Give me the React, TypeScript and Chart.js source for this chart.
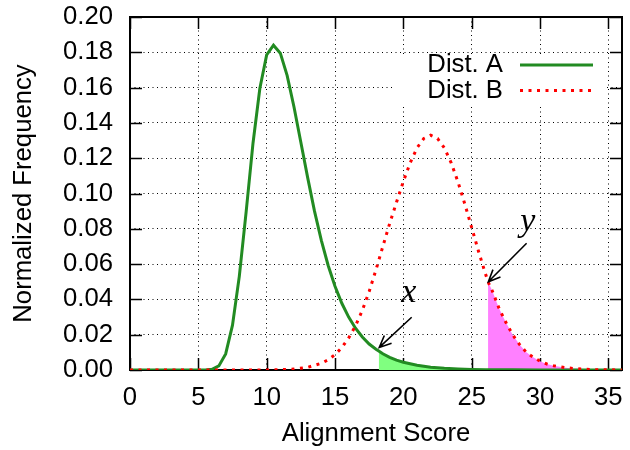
import React, { useEffect, useRef } from 'react';
import { Chart, registerables } from 'chart.js';

Chart.register(...registerables);

// ---- Data ----
const xA = [0, 1, 2, 3, 4, 5, 5.5, 6, 6.5, 7, 7.5, 8, 8.5, 9, 9.5, 10, 10.5, 11, 11.5, 12, 12.5, 13, 13.5, 14, 14.5, 15, 15.5, 16, 16.5, 17, 17.5, 18, 18.2, 18.5, 19, 19.5, 20, 21, 22, 23, 24, 25, 26, 27, 28, 30, 32, 34, 36];
const yA = [0, 0, 0, 0, 0, 0, 0.00003, 0.0004, 0.0023, 0.0091, 0.0254, 0.0532, 0.0897, 0.1285, 0.1595, 0.1785, 0.1840, 0.1795, 0.1668, 0.1490, 0.1290, 0.1090, 0.0900, 0.0735, 0.0592, 0.0474, 0.0378, 0.0300, 0.0237, 0.0187, 0.0147, 0.0118, 0.0108, 0.0092, 0.0072, 0.0056, 0.0044, 0.0027, 0.0016, 0.0010, 0.0006, 0.00035, 0.0002, 0.00013, 0.00008, 0.00003, 0.00001, 0, 0];

const xB = [0, 5, 8, 10, 11, 12, 13, 14, 14.5, 15, 15.5, 16, 16.5, 17, 17.5, 18, 18.5, 19, 19.5, 20, 20.5, 21, 21.5, 22, 22.5, 23, 23.5, 24, 24.5, 25, 25.5, 26, 26.2, 26.5, 27, 27.5, 28, 28.5, 29, 29.5, 30, 30.5, 31, 32, 33, 34, 35, 36];
const yB = [0, 0, 0.00001, 0.00005, 0.00016, 0.0005, 0.0015, 0.0038, 0.0058, 0.0087, 0.0127, 0.0182, 0.0250, 0.0338, 0.0445, 0.0568, 0.0700, 0.0830, 0.0950, 0.1068, 0.1174, 0.1258, 0.1312, 0.1330, 0.1312, 0.1258, 0.1174, 0.1065, 0.0940, 0.0807, 0.0673, 0.0547, 0.0500, 0.0450, 0.0350, 0.0270, 0.0200, 0.0145, 0.0100, 0.0072, 0.0050, 0.0034, 0.0024, 0.0012, 0.0005, 0.0002, 0.0001, 0];

const xCutA = 18.2;
const xCutB = 26.2;

const seriesNames = ['Dist. A', 'Dist. B'];
const xTitle = 'Alignment Score';
const yTitle = 'Normalized Frequency';

// annotation letters and arrows, in data units
const noteLabels = ['x', 'y'];
const noteTextX = [20.4, 29.1];
const noteTextY = [0.0385, 0.0788];
const arrowFromX = [20.61, 29.02];
const arrowFromY = [0.0299, 0.0718];
const arrowToX = [18.24, 26.22];
const arrowToY = [0.0128, 0.0500];

// ---- Styles ----
const FAMILY = '"Liberation Sans", Arial, Helvetica, sans-serif';
const FONT_SIZE = 25.7;
const GREEN = '#228B22';
const RED = '#ff0000';
const GREEN_FILL = '#80ff80';
const MAGENTA_FILL = '#ff80ff';
const DOT_DASH = [3, 5.5];

const framePlugin = {
  id: 'frameAndKey',
  beforeDatasetsDraw(chart: any) {
    const { ctx, chartArea: a, scales } = chart;
    ctx.save();
    // opaque key box
    ctx.fillStyle = '#ffffff';
    ctx.fillRect(a.right - 229, a.top + 37, 214, 53);
    // key entries
    ctx.font = `${FONT_SIZE}px ${FAMILY}`;
    ctx.fillStyle = '#000';
    ctx.textAlign = 'right';
    ctx.textBaseline = 'middle';
    const rows = [a.top + 48, a.top + 73.5];
    ctx.fillText(seriesNames[0], a.right - 119, rows[0]);
    ctx.fillText(seriesNames[1], a.right - 119, rows[1]);
    ctx.lineCap = 'butt';
    ctx.strokeStyle = GREEN;
    ctx.lineWidth = 3;
    ctx.beginPath();
    ctx.moveTo(a.right - 102, rows[0]);
    ctx.lineTo(a.right - 29, rows[0]);
    ctx.stroke();
    ctx.strokeStyle = RED;
    ctx.setLineDash(DOT_DASH);
    ctx.beginPath();
    ctx.moveTo(a.right - 102, rows[1]);
    ctx.lineTo(a.right - 29, rows[1]);
    ctx.stroke();
    ctx.setLineDash([]);

    // frame
    ctx.strokeStyle = '#000';
    ctx.lineWidth = 2;
    ctx.strokeRect(a.left, a.top, a.right - a.left, a.bottom - a.top);
    // inward tick marks, mirrored
    const tl = 12;
    ctx.lineWidth = 1.5;
    ctx.beginPath();
    scales.x.ticks.forEach((t: any) => {
      const p = Math.round(scales.x.getPixelForValue(t.value)) + 0.5;
      ctx.moveTo(p, a.bottom);
      ctx.lineTo(p, a.bottom - tl);
      ctx.moveTo(p, a.top);
      ctx.lineTo(p, a.top + tl);
    });
    scales.y.ticks.forEach((t: any) => {
      const p = Math.round(scales.y.getPixelForValue(t.value)) + 0.5;
      ctx.moveTo(a.left, p);
      ctx.lineTo(a.left + tl, p);
      ctx.moveTo(a.right, p);
      ctx.lineTo(a.right - tl, p);
    });
    ctx.stroke();
    ctx.restore();
  },
};

const notesPlugin = {
  id: 'notes',
  afterDatasetsDraw(chart: any) {
    const { ctx, scales } = chart;
    const sx = scales.x;
    const sy = scales.y;
    ctx.save();
    ctx.strokeStyle = '#000';
    ctx.fillStyle = '#000';
    ctx.lineWidth = 1.6;
    noteLabels.forEach((lab, i) => {
      const fx = sx.getPixelForValue(arrowFromX[i]);
      const fy = sy.getPixelForValue(arrowFromY[i]);
      const tx = sx.getPixelForValue(arrowToX[i]);
      const ty = sy.getPixelForValue(arrowToY[i]);
      const ang = Math.atan2(ty - fy, tx - fx);
      const hl = 13;
      const ha = 0.42;
      ctx.beginPath();
      ctx.moveTo(fx, fy);
      ctx.lineTo(tx, ty);
      ctx.moveTo(tx - hl * Math.cos(ang - ha), ty - hl * Math.sin(ang - ha));
      ctx.lineTo(tx, ty);
      ctx.lineTo(tx - hl * Math.cos(ang + ha), ty - hl * Math.sin(ang + ha));
      ctx.stroke();
      ctx.font = `italic 34px "Liberation Serif", "DejaVu Serif", serif`;
      ctx.textAlign = 'center';
      ctx.textBaseline = 'alphabetic';
      ctx.fillText(lab, sx.getPixelForValue(noteTextX[i]), sy.getPixelForValue(noteTextY[i]));
    });
    ctx.restore();
  },
};

export default function App() {
  const ref = useRef<HTMLCanvasElement | null>(null);
  useEffect(() => {
    document.body.style.margin = '0';
    const canvas = ref.current;
    if (!canvas) return;
    const ptsA = xA.map((x, i) => ({ x, y: yA[i] }));
    const ptsB = xB.map((x, i) => ({ x, y: yB[i] }));
    const fillA = ptsA.filter((p) => p.x >= xCutA);
    const fillB = ptsB.filter((p) => p.x >= xCutB);
    const font = { family: FAMILY, size: FONT_SIZE };
    const chart = new Chart(canvas, {
      type: 'line',
      data: {
        datasets: [
          {
            label: seriesNames[1],
            data: ptsB,
            borderColor: RED,
            borderWidth: 3,
            borderDash: DOT_DASH,
            borderCapStyle: 'butt',
            pointRadius: 0,
            tension: 0,
            fill: false,
            order: 0,
          },
          {
            label: seriesNames[0],
            data: ptsA,
            borderColor: GREEN,
            borderWidth: 3,
            pointRadius: 0,
            tension: 0,
            fill: false,
            order: 1,
          },
          {
            label: 'fillB',
            data: fillB,
            borderColor: 'transparent',
            borderWidth: 0,
            backgroundColor: MAGENTA_FILL,
            pointRadius: 0,
            tension: 0,
            fill: 'origin',
            order: 2,
          },
          {
            label: 'fillA',
            data: fillA,
            borderColor: 'transparent',
            borderWidth: 0,
            backgroundColor: GREEN_FILL,
            pointRadius: 0,
            tension: 0,
            fill: 'origin',
            order: 3,
          },
        ],
      } as any,
      options: {
        responsive: false,
        animation: false,
        devicePixelRatio: 1,
        layout: { padding: { top: 17, right: 8, left: 0, bottom: 0 } },
        plugins: { legend: { display: false }, tooltip: { enabled: false } },
        scales: {
          x: {
            type: 'linear',
            min: 0,
            max: 36,
            afterFit: (s: any) => { s.height = 80; s.paddingLeft = 0; s.paddingRight = 0; },
            ticks: { stepSize: 5, includeBounds: false, font, color: '#000', padding: 12, maxRotation: 0, autoSkip: false },
            grid: { color: '#000', lineWidth: 1, drawTicks: false },
            border: { display: false, dash: [1, 3.5] },
            title: { display: true, text: xTitle, font, color: '#000', padding: { top: 0, bottom: 1 } },
          },
          y: {
            type: 'linear',
            min: 0,
            max: 0.2,
            afterFit: (s: any) => { s.width = 130; s.paddingTop = 0; s.paddingBottom = 0; },
            ticks: { stepSize: 0.02, font, color: '#000', padding: 17, callback: (v: any) => Number(v).toFixed(2) },
            grid: { color: '#000', lineWidth: 1, drawTicks: false },
            border: { display: false, dash: [1, 3.5] },
            title: { display: true, text: yTitle, font, color: '#000', padding: { top: 8, bottom: 0 } },
          },
        },
      } as any,
      plugins: [framePlugin, notesPlugin],
    });
    return () => chart.destroy();
  }, []);
  return (
    <div style={{ position: 'absolute', left: 0, top: 0, width: 630, height: 450, background: '#fff' }}>
      <canvas ref={ref} width={630} height={450} style={{ display: 'block' }} />
    </div>
  );
}
